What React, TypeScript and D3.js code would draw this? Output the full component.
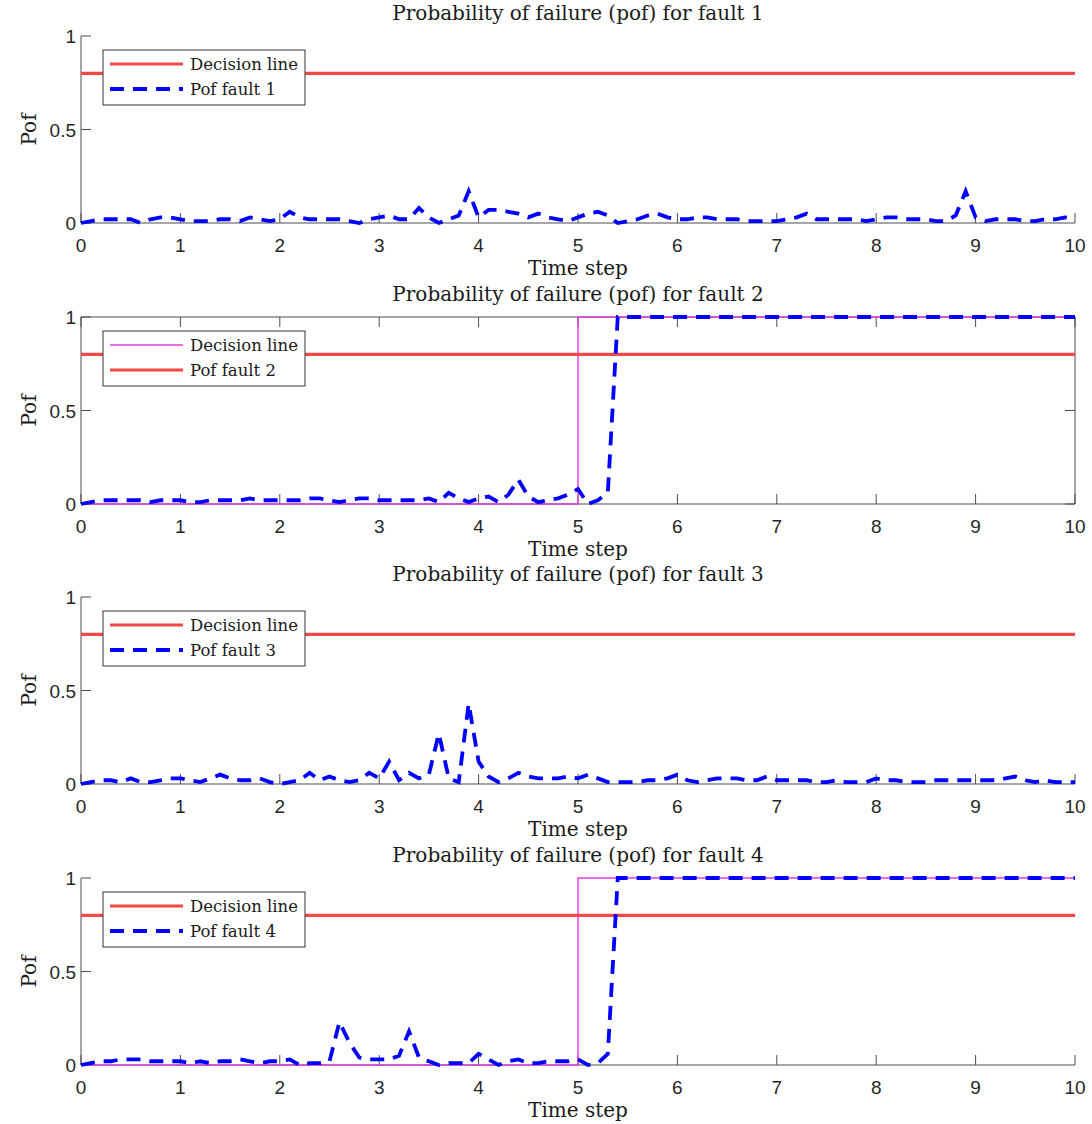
import React from 'react';
import * as d3 from 'd3';

// ---------- data ----------
const TIME = d3.range(0, 101).map((i) => i / 10);

const POF_FAULT_1 = [
  0.0, 0.01, 0.02, 0.02, 0.02, 0.02, 0.0, 0.02, 0.03, 0.03,
  0.02, 0.01, 0.01, 0.01, 0.02, 0.02, 0.01, 0.03, 0.02, 0.01,
  0.02, 0.06, 0.03, 0.02, 0.02, 0.02, 0.02, 0.01, 0.0, 0.02,
  0.03, 0.04, 0.02, 0.02, 0.08, 0.03, 0.0, 0.02, 0.04, 0.17,
  0.03, 0.07, 0.07, 0.06, 0.05, 0.03, 0.05, 0.03, 0.02, 0.01,
  0.03, 0.05, 0.06, 0.04, 0.0, 0.01, 0.02, 0.04, 0.05, 0.03,
  0.02, 0.02, 0.03, 0.03, 0.02, 0.02, 0.02, 0.01, 0.01, 0.01,
  0.01, 0.02, 0.03, 0.05, 0.02, 0.02, 0.02, 0.02, 0.02, 0.01,
  0.02, 0.03, 0.03, 0.02, 0.02, 0.02, 0.01, 0.01, 0.04, 0.17,
  0.03, 0.01, 0.02, 0.02, 0.02, 0.01, 0.01, 0.02, 0.02, 0.03,
  0.02,
];

const POF_FAULT_2 = [
  0.0, 0.01, 0.02, 0.02, 0.02, 0.02, 0.02, 0.01, 0.02, 0.02,
  0.02, 0.01, 0.01, 0.02, 0.02, 0.02, 0.02, 0.03, 0.02, 0.02,
  0.02, 0.02, 0.02, 0.03, 0.03, 0.02, 0.01, 0.02, 0.03, 0.03,
  0.02, 0.02, 0.02, 0.02, 0.02, 0.03, 0.01, 0.06, 0.03, 0.01,
  0.03, 0.04, 0.01, 0.05, 0.13, 0.04, 0.01, 0.02, 0.03, 0.05,
  0.08, 0.0, 0.02, 0.06, 1.0, 1.0, 1.0, 1.0, 1.0, 1.0,
  1.0, 1.0, 1.0, 1.0, 1.0, 1.0, 1.0, 1.0, 1.0, 1.0,
  1.0, 1.0, 1.0, 1.0, 1.0, 1.0, 1.0, 1.0, 1.0, 1.0,
  1.0, 1.0, 1.0, 1.0, 1.0, 1.0, 1.0, 1.0, 1.0, 1.0,
  1.0, 1.0, 1.0, 1.0, 1.0, 1.0, 1.0, 1.0, 1.0, 1.0,
  1.0,
];

const POF_FAULT_3 = [
  0.0, 0.01, 0.02, 0.02, 0.01, 0.03, 0.01, 0.01, 0.02, 0.03,
  0.03, 0.02, 0.01, 0.03, 0.05, 0.03, 0.02, 0.02, 0.03, 0.01,
  0.0, 0.01, 0.02, 0.06, 0.02, 0.04, 0.02, 0.01, 0.02, 0.06,
  0.03, 0.12, 0.02, 0.06, 0.03, 0.05, 0.27, 0.03, 0.01, 0.43,
  0.12, 0.04, 0.01, 0.03, 0.06, 0.04, 0.03, 0.03, 0.03, 0.04,
  0.03, 0.05, 0.03, 0.01, 0.01, 0.01, 0.01, 0.02, 0.02, 0.03,
  0.05, 0.02, 0.01, 0.02, 0.03, 0.03, 0.03, 0.02, 0.02, 0.04,
  0.02, 0.02, 0.02, 0.02, 0.01, 0.01, 0.02, 0.01, 0.01, 0.01,
  0.03, 0.02, 0.02, 0.01, 0.01, 0.01, 0.02, 0.02, 0.02, 0.02,
  0.02, 0.02, 0.02, 0.03, 0.04, 0.02, 0.01, 0.02, 0.01, 0.01,
  0.01,
];

const POF_FAULT_4 = [
  0.0, 0.01, 0.02, 0.02, 0.03, 0.03, 0.03, 0.02, 0.02, 0.02,
  0.02, 0.01, 0.02, 0.01, 0.02, 0.02, 0.03, 0.02, 0.01, 0.02,
  0.02, 0.03, 0.0, 0.01, 0.01, 0.02, 0.23, 0.12, 0.04, 0.03,
  0.03, 0.03, 0.05, 0.18, 0.04, 0.02, 0.0, 0.01, 0.01, 0.01,
  0.06, 0.03, 0.0, 0.02, 0.03, 0.01, 0.01, 0.02, 0.02, 0.02,
  0.03, 0.0, 0.01, 0.06, 1.0, 1.0, 1.0, 1.0, 1.0, 1.0,
  1.0, 1.0, 1.0, 1.0, 1.0, 1.0, 1.0, 1.0, 1.0, 1.0,
  1.0, 1.0, 1.0, 1.0, 1.0, 1.0, 1.0, 1.0, 1.0, 1.0,
  1.0, 1.0, 1.0, 1.0, 1.0, 1.0, 1.0, 1.0, 1.0, 1.0,
  1.0, 1.0, 1.0, 1.0, 1.0, 1.0, 1.0, 1.0, 1.0, 1.0,
  1.0,
];

const DECISION_LEVEL = 0.8;
const TRUTH_TIME = [0, 5, 5, 10];
const TRUTH_VALUE = [0, 0, 1, 1];

const X_TICKS = [0, 1, 2, 3, 4, 5, 6, 7, 8, 9, 10];
const Y_TICKS = [0, 0.5, 1];
const Y_TICK_LABELS = ['0', '0.5', '1'];

const TITLES = [
  'Probability of failure (pof) for fault 1',
  'Probability of failure (pof) for fault 2',
  'Probability of failure (pof) for fault 3',
  'Probability of failure (pof) for fault 4',
];
const LEGEND_1 = ['Decision line', 'Pof fault 1'];
const LEGEND_2 = ['Decision line', 'Pof fault 2'];
const LEGEND_3 = ['Decision line', 'Pof fault 3'];
const LEGEND_4 = ['Decision line', 'Pof fault 4'];

// ---------- styles ----------
const W = 1092;
const H = 1124;
const LEFT = 81;
const RIGHT = 1075;
const TOPS = [36, 317, 597, 878];
const PH = 187;
const SERIF = "'DejaVu Serif', 'Liberation Serif', serif";
const SANS = "'Liberation Sans', Arial, Helvetica, sans-serif";
const RED = '#f24a4a';
const BLUE = '#0000ff';
const MAGENTA = '#e03ce0';
const AXIS = '#4d4d4d';
const TEXT = '#1a1a1a';

type Style = 'red' | 'blue' | 'magenta';
type Panel = {
  title: string;
  series: number[];
  truth: boolean;
  box: boolean;
  legend: { label: string; style: Style }[];
};

const PANELS: Panel[] = [
  { title: TITLES[0], series: POF_FAULT_1, truth: false, box: false,
    legend: [{ label: LEGEND_1[0], style: 'red' }, { label: LEGEND_1[1], style: 'blue' }] },
  { title: TITLES[1], series: POF_FAULT_2, truth: true, box: true,
    legend: [{ label: LEGEND_2[0], style: 'magenta' }, { label: LEGEND_2[1], style: 'red' }] },
  { title: TITLES[2], series: POF_FAULT_3, truth: false, box: false,
    legend: [{ label: LEGEND_3[0], style: 'red' }, { label: LEGEND_3[1], style: 'blue' }] },
  { title: TITLES[3], series: POF_FAULT_4, truth: true, box: false,
    legend: [{ label: LEGEND_4[0], style: 'red' }, { label: LEGEND_4[1], style: 'blue' }] },
];

const strokeFor = (s: Style) => {
  if (s === 'red') return { stroke: RED, strokeWidth: 3.2 };
  if (s === 'blue') return { stroke: BLUE, strokeWidth: 3.8, strokeDasharray: '14 9' };
  return { stroke: MAGENTA, strokeWidth: 1.4 };
};

function PanelView({ p, top }: { p: Panel; top: number }) {
  const x = d3.scaleLinear().domain([0, 10]).range([LEFT, RIGHT]);
  const y = d3.scaleLinear().domain([0, 1]).range([top + PH, top]);
  const line = d3
    .line<[number, number]>()
    .x((d) => x(d[0]))
    .y((d) => y(d[1]));
  const pofPts: [number, number][] = TIME.map((t, i) => [t, p.series[i]]);
  const truthPts: [number, number][] = TRUTH_TIME.map((t, i) => [t, TRUTH_VALUE[i]]);
  const decisionPts: [number, number][] = [[0, DECISION_LEVEL], [10, DECISION_LEVEL]];
  const tickLen = 10;
  const bottom = top + PH;
  const cx = (LEFT + RIGHT) / 2;

  return (
    <g>
      {/* axes */}
      <line x1={LEFT} x2={LEFT} y1={top} y2={bottom} stroke={AXIS} strokeWidth={1} />
      <line x1={LEFT} x2={RIGHT} y1={bottom} y2={bottom} stroke={AXIS} strokeWidth={1} />
      {p.box && (
        <>
          <line x1={LEFT} x2={RIGHT} y1={top} y2={top} stroke={AXIS} strokeWidth={1} />
          <line x1={RIGHT} x2={RIGHT} y1={top} y2={bottom} stroke={AXIS} strokeWidth={1} />
        </>
      )}
      {X_TICKS.map((t) => (
        <g key={'x' + t}>
          <line x1={x(t)} x2={x(t)} y1={bottom} y2={bottom - tickLen} stroke={AXIS} strokeWidth={1} />
          {p.box && (
            <line x1={x(t)} x2={x(t)} y1={top} y2={top + tickLen} stroke={AXIS} strokeWidth={1} />
          )}
          <text x={x(t)} y={bottom + 29} textAnchor="middle" fontFamily={SANS} fontSize={19} fill="#262626">
            {t}
          </text>
        </g>
      ))}
      {Y_TICKS.map((t, i) => (
        <g key={'y' + t}>
          <line x1={LEFT} x2={LEFT + tickLen} y1={y(t)} y2={y(t)} stroke={AXIS} strokeWidth={1} />
          {p.box && (
            <line x1={RIGHT} x2={RIGHT - tickLen} y1={y(t)} y2={y(t)} stroke={AXIS} strokeWidth={1} />
          )}
          <text x={LEFT - 5} y={y(t) + 7} textAnchor="end" fontFamily={SANS} fontSize={19} fill="#262626">
            {Y_TICK_LABELS[i]}
          </text>
        </g>
      ))}

      {/* data */}
      {p.truth && <path d={line(truthPts) || ''} fill="none" {...strokeFor('magenta')} />}
      <path d={line(decisionPts) || ''} fill="none" {...strokeFor('red')} />
      <path d={line(pofPts) || ''} fill="none" strokeLinejoin="miter" {...strokeFor('blue')} />

      {/* labels */}
      <text x={cx} y={top - 16} textAnchor="middle" fontFamily={SERIF} fontSize={20} fill={TEXT}>
        {p.title}
      </text>
      <text x={cx} y={bottom + 52} textAnchor="middle" fontFamily={SERIF} fontSize={20} fill={TEXT}>
        Time step
      </text>
      <text
        transform={`translate(${36},${(top + bottom) / 2}) rotate(-90)`}
        textAnchor="middle"
        fontFamily={SERIF}
        fontSize={20}
        fill={TEXT}
      >
        Pof
      </text>

      {/* legend */}
      <rect x={103} y={top + 14} width={202} height={55} fill="#fff" stroke="#333" strokeWidth={1} />
      {p.legend.map((e, i) => {
        const ly = top + 28 + i * 25;
        return (
          <g key={e.label + i}>
            <line x1={110} x2={183} y1={ly} y2={ly} {...strokeFor(e.style)} />
            <text x={190} y={ly + 6} fontFamily={SERIF} fontSize={16.5} fill={TEXT}>
              {e.label}
            </text>
          </g>
        );
      })}
    </g>
  );
}

export default function App() {
  return (
    <svg
      width={W}
      height={H}
      viewBox={`0 0 ${W} ${H}`}
      style={{ position: 'absolute', left: 0, top: 0, background: '#fff' }}
    >
      <rect x={0} y={0} width={W} height={H} fill="#fff" />
      {PANELS.map((p, i) => (
        <PanelView key={i} p={p} top={TOPS[i]} />
      ))}
    </svg>
  );
}
